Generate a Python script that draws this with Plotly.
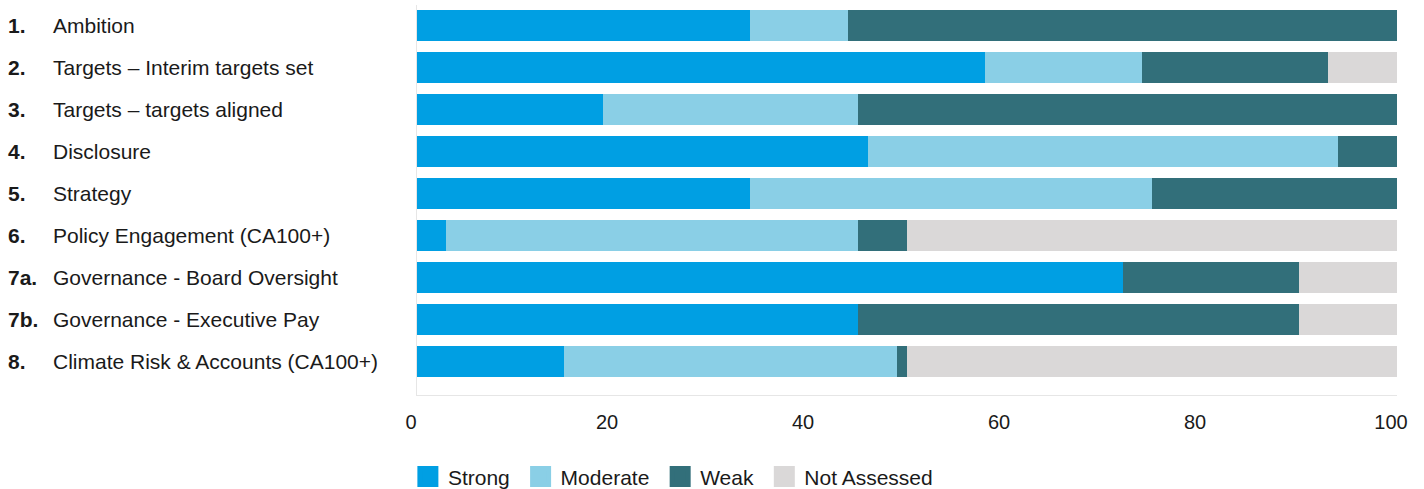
import plotly.graph_objects as go

numbers = ["1.", "2.", "3.", "4.", "5.", "6.", "7a.", "7b.", "8."]
categories = [
    "Ambition",
    "Targets – Interim targets set",
    "Targets – targets aligned",
    "Disclosure",
    "Strategy",
    "Policy Engagement (CA100+)",
    "Governance - Board Oversight",
    "Governance - Executive Pay",
    "Climate Risk & Accounts (CA100+)",
]
strong = [34, 58, 19, 46, 34, 3, 72, 45, 15]
moderate = [10, 16, 26, 48, 41, 42, 0, 0, 34]
weak = [56, 19, 55, 6, 25, 5, 18, 45, 1]
not_assessed = [0, 7, 0, 0, 0, 50, 10, 10, 50]

series = [
    ("Strong", strong, "#009FE3"),
    ("Moderate", moderate, "#8ACFE6"),
    ("Weak", weak, "#326F7A"),
    ("Not Assessed", not_assessed, "#DAD8D8"),
]

FONT = "Liberation Sans, Arial, sans-serif"
TXT = "#1a1a1a"
NBSP = "\u00a0"

fig = go.Figure()
for name, vals, col in series:
    fig.add_trace(go.Bar(
        name=name, y=categories, x=vals, orientation="h",
        marker=dict(color=col, line=dict(width=0)),
        width=0.74, showlegend=False, legendgroup=name,
    ))
# legend entries with larger square swatches
for i, (name, vals, col) in enumerate(series):
    label = name + (NBSP if i < len(series) - 1 else "")
    fig.add_trace(go.Scatter(
        name=label, x=[None], y=[None], mode="markers",
        marker=dict(symbol="square", size=16, color=col, line=dict(color=col, width=5)),
        showlegend=True, legendgroup=name, hoverinfo="skip",
    ))

for num, cat in zip(numbers, categories):
    fig.add_annotation(x=-0.4194, y=cat, xref="paper", yref="y", text="<b>%s</b>" % num,
                       showarrow=False, xanchor="left", yanchor="middle",
                       font=dict(family=FONT, size=21, color=TXT))
    fig.add_annotation(x=-0.3735, y=cat, xref="paper", yref="y", text=cat,
                       showarrow=False, xanchor="left", yanchor="middle",
                       font=dict(family=FONT, size=21, color=TXT))

fig.update_layout(
    barmode="stack",
    width=1424, height=489,
    margin=dict(l=417, r=27, t=5, b=94, autoexpand=False),
    paper_bgcolor="white", plot_bgcolor="white",
    font=dict(family=FONT, size=20, color=TXT),
    bargap=0.26,
    legend=dict(orientation="h", x=-0.0093, xanchor="left", y=-0.21, yanchor="middle",
                font=dict(family=FONT, size=21, color=TXT),
                traceorder="normal", itemwidth=30),
    showlegend=True,
)
fig.update_xaxes(range=[0, 100], tickvals=[0, 20, 40, 60, 80, 100], showgrid=False,
                 zeroline=False, showline=True, linecolor="#e6e6e6", linewidth=1,
                 ticks="", tickfont=dict(family=FONT, size=20, color=TXT),
                 ticklabelshift=-6, ticklabelstandoff=9)
fig.update_yaxes(type="category", range=[8.8, -0.5], showticklabels=False, showgrid=False,
                 zeroline=False, showline=True, linecolor="#e6e6e6", linewidth=1, ticks="")

fig.write_html("out.html")
